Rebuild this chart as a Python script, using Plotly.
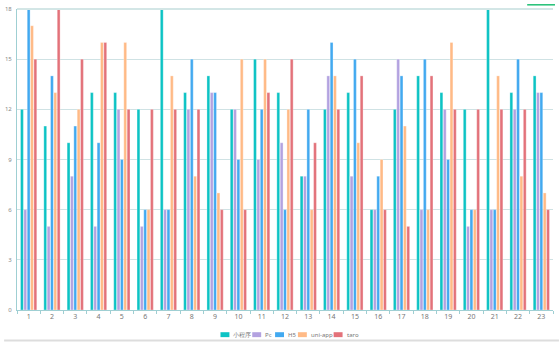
import plotly.graph_objects as go

categories = [str(i) for i in range(1, 24)]

mini_program = [12, 11, 10, 13, 13, 12, 18, 13, 14, 12, 15, 13, 8, 12, 13, 6, 12, 14, 13, 12, 18, 13, 14]
pc = [6, 5, 8, 5, 12, 5, 6, 12, 13, 12, 9, 10, 8, 14, 8, 6, 15, 6, 12, 5, 6, 12, 13]
h5 = [18, 14, 11, 10, 9, 6, 6, 15, 13, 9, 12, 6, 12, 16, 15, 8, 14, 15, 9, 6, 6, 15, 13]
uni_app = [17, 13, 12, 16, 16, 6, 14, 8, 7, 15, 15, 12, 6, 14, 10, 9, 11, 6, 16, 6, 14, 8, 7]
taro = [15, 18, 15, 16, 12, 12, 12, 12, 6, 6, 13, 15, 10, 12, 14, 6, 5, 14, 12, 12, 12, 12, 6]

series_names = ["小程序", "Pc", "H5", "uni-app", "taro"]
series_values = [mini_program, pc, h5, uni_app, taro]
series_colors = ["#0cc3c4", "#b3a2e0", "#42a9f0", "#ffba86", "#e3727a"]

fig = go.Figure()
for name, values, color in zip(series_names, series_values, series_colors):
    fig.add_trace(go.Bar(
        name=name, x=categories, y=values, showlegend=False,
        marker=dict(color=color, line=dict(color="rgba(255,255,255,0.6)", width=0.5)),
    ))

W, H = 559, 342
ml, mr, mt, mb = 13, 6, 5, 32
pw, ph = W - ml - mr, H - mt - mb


def px_x(x):
    return (x - ml) / pw


def px_y(y):
    return (H - mb - y) / ph


shapes = [
    dict(type="line", xref="paper", yref="paper", x0=0, x1=1, y0=1, y1=1,
         line=dict(color="#d3e6e6", width=2)),
    dict(type="line", xref="paper", yref="paper",
         x0=px_x(0), x1=px_x(W), y0=px_y(341), y1=px_y(341),
         line=dict(color="#dddddd", width=2)),
    dict(type="rect", xref="paper", yref="paper",
         x0=px_x(527), x1=px_x(555), y0=px_y(1.5), y1=px_y(0),
         line=dict(width=0), fillcolor="#1dbf73"),
]
annotations = []

# Legend row: swatch + label, laid out left to right
legend_swatch_x = [218, 250, 273, 296, 332]
legend_y = 335
for name, color, sx in zip(series_names, series_colors, legend_swatch_x):
    shapes.append(dict(
        type="rect", xref="paper", yref="paper",
        x0=px_x(sx), x1=px_x(sx + 9), y0=px_y(legend_y + 2.5), y1=px_y(legend_y - 2.5),
        line=dict(width=0), fillcolor=color,
    ))
    annotations.append(dict(
        text=name, xref="paper", yref="paper", x=px_x(sx + 11), y=px_y(legend_y),
        xanchor="left", yanchor="middle", showarrow=False,
        font=dict(size=6, color="#777"),
    ))

fig.update_layout(
    width=W, height=H,
    margin=dict(l=ml, r=mr, t=mt, b=mb),
    barmode="group", bargap=0.28, bargroupgap=0.15,
    plot_bgcolor="white", paper_bgcolor="white",
    showlegend=False,
    font=dict(family="Noto Sans, DejaVu Sans, sans-serif", size=7, color="#777"),
    xaxis=dict(
        type="category", showgrid=False, showline=True, linecolor="#9fcfd3", linewidth=1,
        ticks="outside", tickson="boundaries", ticklen=3, tickcolor="#9fcfd3",
        tickfont=dict(size=7, color="#777"),
    ),
    yaxis=dict(
        range=[0, 18], dtick=3, showgrid=True, gridcolor="#cfe2e4", gridwidth=1,
        showline=True, linecolor="#9fcfd3", linewidth=1, zeroline=False,
        ticks="", tickfont=dict(size=6, color="#888"), ticklabelstandoff=3,
    ),
    shapes=shapes,
    annotations=annotations,
)

fig.write_html("out.html")
